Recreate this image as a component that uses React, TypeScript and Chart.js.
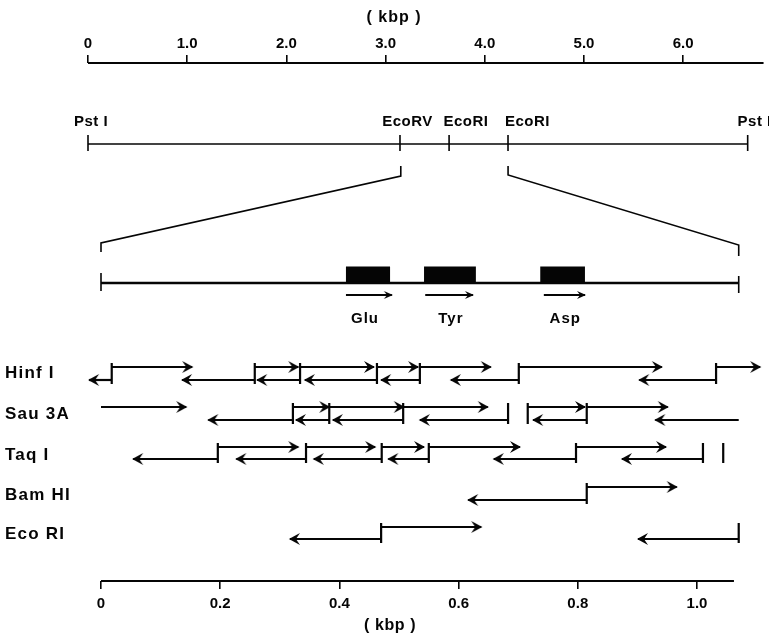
import React, { useEffect, useRef } from "react";
import { Chart, registerables } from "chart.js";

Chart.register(...registerables);

// Top axis and physical map, in kbp
const topTicks = [0, 1, 2, 3, 4, 5, 6];
const topAxisEnd = 6.81;
const mapSites = [0, 3.145, 3.64, 4.234, 6.65];
const mapLabels = [
  { text: "Pst I", at: 0.03 },
  { text: "EcoRV", at: 3.22 },
  { text: "EcoRI", at: 3.81 },
  { text: "EcoRI", at: 4.43 },
  { text: "Pst I", at: 6.72 },
];

// Bottom axis and detail map, in kbp
const bottomTicks = [0, 0.2, 0.4, 0.6, 0.8, 1.0];
const bottomAxisEnd = 1.062;
const detailEnd = 1.07;
const genes = [
  { name: "Glu", box: [0.411, 0.485], arrow: [0.411, 0.488], label: 0.443 },
  { name: "Tyr", box: [0.542, 0.629], arrow: [0.544, 0.624], label: 0.587 },
  { name: "Asp", box: [0.737, 0.812], arrow: [0.743, 0.812], label: 0.779 },
];

// Sequencing strategy: [start, end] of each read, in kbp
const hinfForward = [[0.018, 0.153], [0.258, 0.331], [0.334, 0.458], [0.463, 0.532], [0.535, 0.654], [0.701, 0.941], [1.032, 1.106]];
const hinfReverse = [[0.018, -0.02], [0.258, 0.136], [0.334, 0.262], [0.463, 0.342], [0.535, 0.47], [0.701, 0.587], [1.032, 0.903]];
const hinfCuts = [0.018, 0.258, 0.334, 0.463, 0.535, 0.701, 1.032];

const sauForward = [[0, 0.143], [0.322, 0.383], [0.383, 0.508], [0.507, 0.649], [0.716, 0.812], [0.815, 0.951]];
const sauReverse = [[0.322, 0.18], [0.383, 0.327], [0.507, 0.389], [0.683, 0.535], [0.815, 0.725], [1.07, 0.93]];
const sauCuts = [0.322, 0.383, 0.507, 0.683, 0.716, 0.815];

const taqForward = [[0.196, 0.331], [0.344, 0.46], [0.471, 0.542], [0.55, 0.703], [0.797, 0.948]];
const taqReverse = [[0.196, 0.054], [0.344, 0.227], [0.471, 0.357], [0.55, 0.482], [0.797, 0.659], [1.01, 0.874]];
const taqCuts = [0.196, 0.344, 0.471, 0.55, 0.797, 1.01, 1.044];

const bamForward = [[0.815, 0.966]];
const bamReverse = [[0.815, 0.616]];
const bamCuts = [0.815];

const ecoForward = [[0.47, 0.638]];
const ecoReverse = [[0.47, 0.317], [1.07, 0.901]];
const ecoCuts = [0.47, 1.07];

const enzymeRows = [
  { label: "Hinf I", labelLevel: 373, upper: 367, lower: 380, forward: hinfForward, reverse: hinfReverse, cuts: hinfCuts },
  { label: "Sau 3A", labelLevel: 414, upper: 407, lower: 420, forward: sauForward, reverse: sauReverse, cuts: sauCuts },
  { label: "Taq I", labelLevel: 455, upper: 447, lower: 459, forward: taqForward, reverse: taqReverse, cuts: taqCuts },
  { label: "Bam HI", labelLevel: 495, upper: 487, lower: 500, forward: bamForward, reverse: bamReverse, cuts: bamCuts },
  { label: "Eco RI", labelLevel: 534, upper: 527, lower: 539, forward: ecoForward, reverse: ecoReverse, cuts: ecoCuts },
];

// Vertical levels of the drawing
const LEVEL_TOP_AXIS = 63;
const LEVEL_BOTTOM_AXIS = 581;
const LEVEL_MAP = 144;
const LEVEL_DETAIL = 283;

function arrowHead(dir: number, len: number, half: number): HTMLCanvasElement {
  const c = document.createElement("canvas");
  c.width = len * 2 + 2;
  c.height = half * 2 + 2;
  const g = c.getContext("2d")!;
  const cx = c.width / 2;
  const cy = c.height / 2;
  g.fillStyle = "#050505";
  g.beginPath();
  g.moveTo(cx + dir, cy);
  g.lineTo(cx - dir * len, cy - half);
  g.lineTo(cx - dir * (len * 0.6), cy);
  g.lineTo(cx - dir * len, cy + half);
  g.closePath();
  g.fill();
  return c;
}

const INK = "#050505";
const FONT = '"Liberation Sans", Arial, sans-serif';

export default function App() {
  const ref = useRef<HTMLCanvasElement | null>(null);

  useEffect(() => {
    const right = arrowHead(1, 10, 6);
    const left = arrowHead(-1, 10, 6);
    const smallRight = arrowHead(1, 8, 4);

    const seg = (axis: string, pts: number[][], width: number) => ({
      type: "scatter" as const,
      xAxisID: axis,
      yAxisID: "y",
      showLine: true,
      clip: false,
      data: pts.map(([x, y]) => ({ x, y })),
      borderColor: INK,
      backgroundColor: INK,
      borderWidth: width,
      pointRadius: 0,
      borderCapStyle: "butt" as const,
      borderJoinStyle: "miter" as const,
    });

    const arrow = (axis: string, a: number, b: number, y: number, width: number, heads?: HTMLCanvasElement[]) => ({
      ...seg(axis, [[a, y], [b, y]], width),
      pointRadius: [0, 5],
      pointStyle: heads ? (b > a ? heads[0] : heads[1]) : b > a ? right : left,
    });

    const datasets: any[] = [];

    // top axis line and physical map
    datasets.push(seg("xTop", [[0, LEVEL_TOP_AXIS], [topAxisEnd, LEVEL_TOP_AXIS]], 2.2));
    datasets.push(seg("xTop", [[mapSites[0], LEVEL_MAP], [mapSites[mapSites.length - 1], LEVEL_MAP]], 1.6));
    mapSites.forEach((s) => datasets.push(seg("xTop", [[s, LEVEL_MAP - 9], [s, LEVEL_MAP + 7]], 1.6)));

    // zoom guide lines
    datasets.push(seg("x", [[0, 252], [0, 243], [0.503, 176], [0.503, 166]], 1.6));
    datasets.push(seg("x", [[0.683, 166], [0.683, 175], [detailEnd, 245], [detailEnd, 256]], 1.6));

    // detail map
    datasets.push(seg("x", [[0, LEVEL_DETAIL], [detailEnd, LEVEL_DETAIL]], 2.4));
    datasets.push(seg("x", [[0, 273], [0, 291]], 1.6));
    datasets.push(seg("x", [[detailEnd, 276], [detailEnd, 293]], 1.6));
    genes.forEach((g) => {
      datasets.push(seg("x", [[g.box[0], 275], [g.box[1], 275]], 17));
      datasets.push(arrow("x", g.arrow[0], g.arrow[1], 295, 2.2, [smallRight, smallRight]));
    });

    // enzyme rows
    enzymeRows.forEach((r) => {
      r.forward.forEach(([a, b]) => datasets.push(arrow("x", a, b, r.upper, 2.2)));
      r.reverse.forEach(([a, b]) => datasets.push(arrow("x", a, b, r.lower, 2.2)));
      r.cuts.forEach((c) => datasets.push(seg("x", [[c, r.upper - 4], [c, r.lower + 4]], 2.2)));
    });

    // bottom axis line
    datasets.push(seg("x", [[0, LEVEL_BOTTOM_AXIS], [bottomAxisEnd, LEVEL_BOTTOM_AXIS]], 2.2));

    const textPlugin = {
      id: "drawingText",
      afterDatasetsDraw(chart: any) {
        const { ctx, scales } = chart;
        const put = (axis: string, text: string, xv: number, yv: number, align: CanvasTextAlign, size: number, spacing: string) => {
          ctx.save();
          ctx.fillStyle = INK;
          ctx.font = `bold ${size}px ${FONT}`;
          ctx.textAlign = align;
          ctx.textBaseline = "middle";
          (ctx as any).letterSpacing = spacing;
          ctx.fillText(text, scales[axis].getPixelForValue(xv), scales.y.getPixelForValue(yv));
          ctx.restore();
        };
        put("xTop", "( kbp )", 3.085, 18, "center", 16, "1px");
        put("x", "( kbp )", 0.485, 626, "center", 16, "0.6px");
        mapLabels.forEach((l) => put("xTop", l.text, l.at, 122, "center", 15, "0.5px"));
        genes.forEach((g) => put("x", g.name, g.label, 319, "center", 15, "1px"));
        enzymeRows.forEach((r) => put("x", r.label, -0.161, r.labelLevel, "left", 17, "1.2px"));
      },
    };

    const tickLabel = (v: any) => (Number(v) === 0 ? "0" : Number(v).toFixed(1));
    const noPadding = (s: any, height: number) => {
      s.height = height;
      s.paddingLeft = 0;
      s.paddingRight = 0;
    };

    const chart = new Chart(ref.current!, {
      type: "scatter",
      data: { datasets },
      plugins: [textPlugin],
      options: {
        responsive: false,
        animation: false,
        events: [],
        layout: { padding: 0, autoPadding: false },
        plugins: { legend: { display: false }, tooltip: { enabled: false }, title: { display: false } },
        scales: {
          x: {
            type: "linear",
            position: "bottom",
            min: -101 / 596,
            max: 668 / 596,
            border: { display: false },
            grid: { drawOnChartArea: false, drawTicks: true, tickLength: 8, color: INK, lineWidth: 1.6 },
            afterBuildTicks: (s: any) => { s.ticks = bottomTicks.map((value) => ({ value })); },
            afterFit: (s: any) => noPadding(s, 634 - LEVEL_BOTTOM_AXIS),
            ticks: { autoSkip: false, maxRotation: 0, padding: 6, color: INK, font: { family: FONT, size: 15, weight: "bold" }, callback: tickLabel },
          },
          xTop: {
            type: "linear",
            axis: "x",
            position: "top",
            min: -88 / 99.2,
            max: 681 / 99.2,
            border: { display: false },
            grid: { drawOnChartArea: false, drawTicks: true, tickLength: 8, color: INK, lineWidth: 1.6 },
            afterBuildTicks: (s: any) => { s.ticks = topTicks.map((value) => ({ value })); },
            afterFit: (s: any) => noPadding(s, LEVEL_TOP_AXIS),
            ticks: { autoSkip: false, maxRotation: 0, padding: 2, color: INK, font: { family: FONT, size: 15, weight: "bold" }, callback: tickLabel },
          },
          y: {
            type: "linear",
            display: false,
            reverse: true,
            min: LEVEL_TOP_AXIS,
            max: LEVEL_BOTTOM_AXIS,
          },
        },
      } as any,
    });
    return () => chart.destroy();
  }, []);

  return (
    <canvas
      ref={ref}
      width={769}
      height={634}
      style={{ position: "fixed", left: 0, top: 0, width: 769, height: 634, display: "block", background: "#fff" }}
    />
  );
}
